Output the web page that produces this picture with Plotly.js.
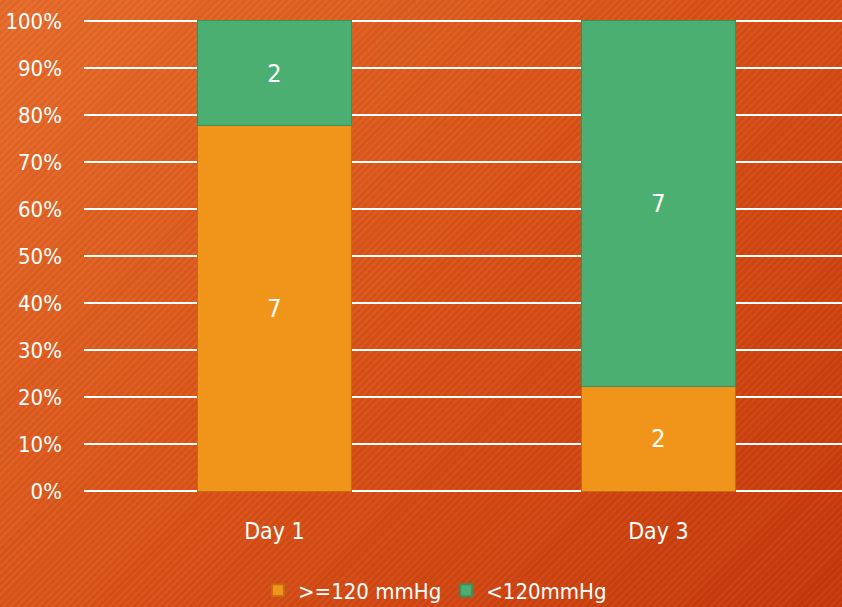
<!DOCTYPE html>
<html>
<head>
<meta charset="utf-8">
<script src="https://cdn.plot.ly/plotly-3.0.1.min.js"></script>
<style>
  html, body { margin: 0; padding: 0; }
  body {
    width: 842px; height: 607px; overflow: hidden;
    background:
      repeating-linear-gradient(135deg, rgba(255,255,255,0.035) 0px, rgba(255,255,255,0.035) 2px, rgba(0,0,0,0.035) 2px, rgba(0,0,0,0.035) 5px),
      linear-gradient(135deg, #e86c2a 0%, #dc5418 45%, #c8380a 100%);
  }
  #chart { width: 842px; height: 607px; }
</style>
</head>
<body>
<div id="chart"></div>
<script>
// Blood pressure readings per day, split at 120 mmHg
const days = ['Day 1', 'Day 3'];
const highCounts = [7, 2];   // >=120 mmHg
const lowCounts = [2, 7];    // <120mmHg
const seriesNames = ['>=120 mmHg', '<120mmHg'];
const yTicks = [0, 10, 20, 30, 40, 50, 60, 70, 80, 90, 100];

const font = "'DejaVu Sans Condensed', 'DejaVu Sans', sans-serif";

const traces = [
  {
    type: 'bar', name: seriesNames[0], x: days, y: highCounts,
    text: highCounts.map(String), textposition: 'inside', insidetextanchor: 'middle',
    textfont: { color: '#ffffff', size: 25, family: font },
    marker: { color: '#f0951a', line: { color: '#c86a10', width: 1 } },
    width: 0.4, hoverinfo: 'skip'
  },
  {
    type: 'bar', name: seriesNames[1], x: days, y: lowCounts,
    text: lowCounts.map(String), textposition: 'inside', insidetextanchor: 'middle',
    textfont: { color: '#ffffff', size: 25, family: font },
    marker: { color: '#4baf72', line: { color: '#3c8f5c', width: 1 } },
    width: 0.4, hoverinfo: 'skip'
  }
];

const layout = {
  width: 842, height: 607,
  paper_bgcolor: 'rgba(0,0,0,0)', plot_bgcolor: 'rgba(0,0,0,0)',
  barmode: 'stack', barnorm: 'percent',
  margin: { l: 84, r: 0, t: 18, b: 113 },
  font: { family: font, color: '#ffffff', size: 22 },
  xaxis: {
    type: 'category', range: [-0.496, 1.478],
    showgrid: false, zeroline: false, showline: false, ticks: '',
    ticklabelstandoff: 21,
    tickfont: { size: 23, color: '#ffffff', family: font }
  },
  yaxis: {
    range: [-0.6, 100.6], tickvals: yTicks, ticktext: yTicks.map(v => v + '%'),
    showgrid: true, gridcolor: '#ffffff', gridwidth: 2,
    zeroline: false, showline: false, ticks: '',
    ticklabelstandoff: 21,
    tickfont: { size: 22, color: '#ffffff', family: font }
  },
  showlegend: true,
  legend: {
    orientation: 'h', x: 0.463, xanchor: 'center', xref: 'paper',
    y: 0.062, yanchor: 'top', yref: 'container',
    font: { size: 22, color: '#ffffff', family: font },
    itemwidth: 30, itemsizing: 'constant',
    traceorder: 'normal'
  }
};

Plotly.newPlot('chart', traces, layout, { displayModeBar: false, staticPlot: true });
</script>
</body>
</html>
